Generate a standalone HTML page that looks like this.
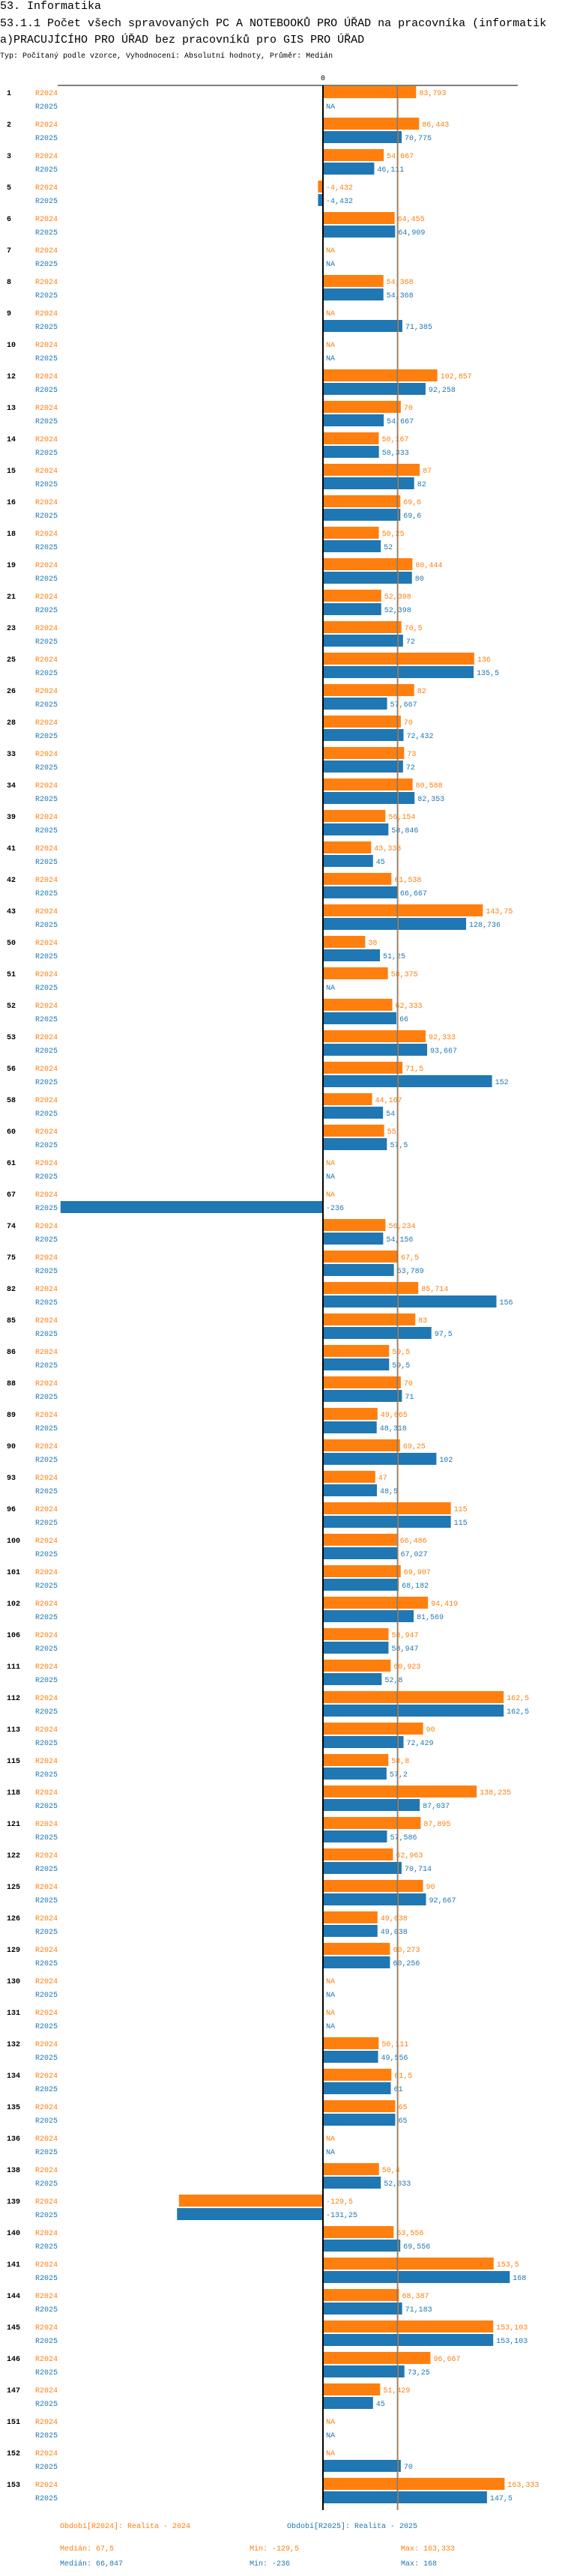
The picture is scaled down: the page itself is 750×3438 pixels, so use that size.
<!DOCTYPE html>
<html><head><meta charset="utf-8"><style>
html,body{margin:0;padding:0;background:#fff;width:750px;height:3438px;overflow:hidden}
svg{display:block}
text{font-family:"Liberation Mono",monospace}
</style></head><body>
<svg id="chart" width="750" height="3438" xmlns="http://www.w3.org/2000/svg">
<text x="0" y="12" font-size="15" fill="#000">53. Informatika</text>
<text x="0" y="35" font-size="15" fill="#000">53.1.1 Počet všech spravovaných PC A NOTEBOOKŮ PRO ÚŘAD na pracovníka (informatik</text>
<text x="0" y="57" font-size="15" fill="#000">a)PRACUJÍCÍHO PRO ÚŘAD bez pracovníků pro GIS PRO ÚŘAD</text>
<text x="0" y="77" font-size="10" fill="#000">Typ: Počítaný podle vzorce, Vyhodnocení: Absolutní hodnoty, Průměr: Medián</text>
<g id="plot"></g>
<text x="80" y="3374" font-size="10" fill="#ff7f0e">Období[R2024]: Realita - 2024</text>
<text x="383" y="3374" font-size="10" fill="#1f77b4">Období[R2025]: Realita - 2025</text>
<text x="80" y="3404" font-size="10" fill="#ff7f0e">Medián: 67,5</text>
<text x="333" y="3404" font-size="10" fill="#ff7f0e">Min: -129,5</text>
<text x="535" y="3404" font-size="10" fill="#ff7f0e">Max: 163,333</text>
<text x="80" y="3424" font-size="10" fill="#1f77b4">Medián: 66,847</text>
<text x="333" y="3424" font-size="10" fill="#1f77b4">Min: -236</text>
<text x="535" y="3424" font-size="10" fill="#1f77b4">Max: 168</text>
</svg>
<script>
const categories = ["1","2","3","5","6","7","8","9","10","12","13","14","15","16","18","19","21","23","25","26","28","33","34","39","41","42","43","50","51","52","53","56","58","60","61","67","74","75","82","85","86","88","89","90","93","96","100","101","102","106","111","112","113","115","118","121","122","125","126","129","130","131","132","134","135","136","138","139","140","141","144","145","146","147","151","152","153"];
const values2024 = [83.793,86.443,54.667,-4.432,64.455,null,54.368,null,null,102.857,70,50.167,87,69.6,50.25,80.444,52.398,70.5,136,82,70,73,80.588,56.154,43.333,61.538,143.75,38,58.375,62.333,92.333,71.5,44.167,55,null,null,56.234,67.5,85.714,83,59.5,70,49.065,69.25,47,115,66.486,69.907,94.419,58.947,60.923,162.5,90,58.8,138.235,87.895,62.963,90,49.038,60.273,null,null,50.111,61.5,65,null,50.4,-129.5,63.556,153.5,68.387,153.103,96.667,51.429,null,null,163.333];
const values2025 = [null,70.775,46.111,-4.432,64.909,null,54.368,71.385,null,92.258,54.667,50.333,82,69.6,52,80,52.398,72,135.5,57.667,72.432,72,82.353,58.846,45,66.667,128.736,51.25,null,66,93.667,152,54,57.5,null,-236,54.156,63.789,156,97.5,59.5,71,48.318,102,48.5,115,67.027,68.182,81.569,58.947,52.8,162.5,72.429,57.2,87.037,57.586,70.714,92.667,49.038,60.256,null,null,49.556,61,65,null,52.033,-131.25,69.556,168,71.183,153.103,73.25,45,null,70,147.5];
const medians = [67.5, 66.847];

const NS = "http://www.w3.org/2000/svg";
const g = document.getElementById("plot");
const X0 = 431, K = 1.484, TOP = 115, PITCH = 42, BH = 16;
const xs = v => X0 + v * K;
const ys = i => TOP + i * PITCH;
const colors = ["#ff7f0e", "#1f77b4"];
const fmt = v => String(v).replace(".", ",");
function mk(tag, attrs) { const e = document.createElementNS(NS, tag); for (const k in attrs) e.setAttribute(k, attrs[k]); g.appendChild(e); return e; }

const bottom = ys(categories.length - 1) + 43;
let ax = mk("line", {x1: 77, x2: 691, y1: 114, y2: 114, stroke: "#000", "stroke-width": 1});


let zl = mk("text", {x: X0 - 3, y: 107, "font-size": 10, fill: "#000"}); zl.textContent = "0";



categories.forEach((c, i) => {
  const t = ys(i);
  const lab = mk("text", {x: 9, y: t + 12, "font-size": 10, "font-weight": "bold", fill: "#000"}); lab.textContent = c;
  
  
  [values2024, values2025].forEach((arr, s) => {
    const y = t + s * 18;
    const rl = mk("text", {x: 47, y: y + 12, "font-size": 10, fill: colors[s]}); rl.textContent = s ? "R2025" : "R2024";
    
    
    const v = arr[i];
    if (v === null) {
      const na = mk("text", {x: X0 + 4, y: y + 12, "font-size": 10, fill: colors[s]}); na.textContent = "NA";
      
      
      return;
    }
    const x1 = Math.min(xs(0), xs(v)), w = Math.abs(xs(v) - xs(0));
    const r = mk("rect", {x: x1, y: y, width: w, height: BH, fill: colors[s]});
    
    
    const vx = v >= 0 ? xs(v) + 4 : X0 + 4;
    const vl = mk("text", {x: vx, y: y + 12, "font-size": 10, fill: colors[s]}); vl.textContent = fmt(v);
    
    
  });
});

let m1 = mk("line", {x1: xs(medians[1]), x2: xs(medians[1]), y1: 114, y2: bottom, stroke: "#1f77b4", "stroke-width": 1});


let m0 = mk("line", {x1: xs(medians[0]), x2: xs(medians[0]), y1: 114, y2: bottom, stroke: "#ff7f0e", "stroke-width": 1});


let z = mk("line", {x1: X0, x2: X0, y1: 114, y2: bottom, stroke: "#000", "stroke-width": 2});


</script>
</body></html>
